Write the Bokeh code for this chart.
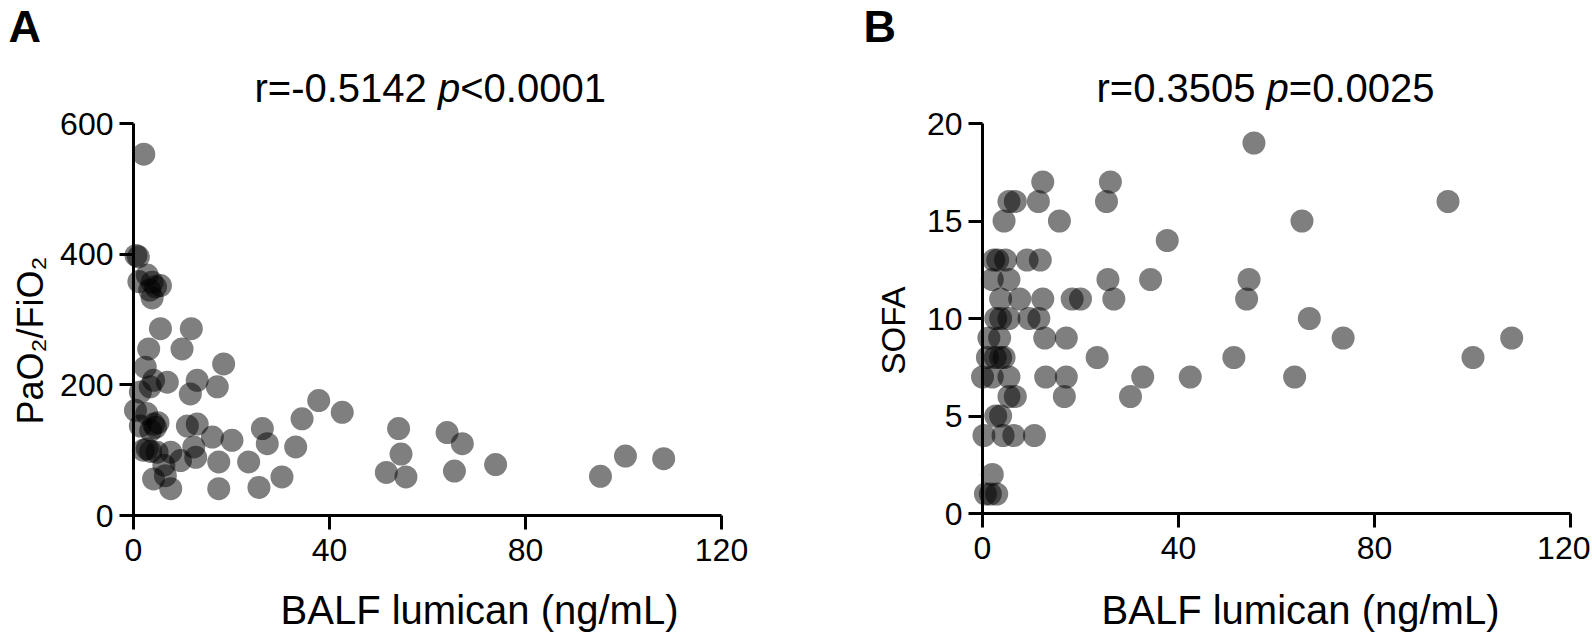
import math
from bokeh.plotting import figure
from bokeh.layouts import row
from bokeh.models import Label, FixedTicker
from bokeh.embed import file_html
from bokeh.resources import INLINE

# ---------------- data ----------------
lumican_a = [2.1, 0.5, 1.0, 2.8, 1.1, 3.8, 4.5, 5.5, 3.8, 3.3, 5.5, 11.8, 3.1, 9.9, 18.4,
             2.4, 13.0, 17.1, 11.6, 4.1, 6.9, 1.4, 3.4, 0.4, 2.7, 4.1, 4.5, 1.4, 5.0, 3.5,
             11.0, 13.0, 16.1, 20.1, 26.3, 27.3, 33.1, 34.4, 37.8, 42.6, 2.0, 2.8, 4.8, 3.5,
             7.6, 9.6, 12.3, 12.7, 6.2, 4.1, 6.5, 7.6, 17.4, 17.4, 23.5, 25.6, 30.3, 54.1,
             54.6, 51.6, 55.6, 64.0, 67.1, 65.5, 73.9, 95.3, 100.4, 108.2]
pf_ratio = [553, 398, 396, 368, 358, 357, 350, 352, 333, 345, 286, 286, 255, 255, 232,
            227, 207, 197, 186, 207, 204, 189, 197, 161, 156, 140, 135, 137, 142, 130,
            137, 140, 120, 115, 133, 110, 105, 148, 176, 158, 100, 102, 97, 98,
            97, 84, 105, 89, 77, 56, 61, 41, 82, 41, 82, 43, 59, 133,
            94, 66, 59, 127, 110, 68, 78, 60, 91, 87]

lumican_b = [55.4,
             12.3, 26.1,
             5.4, 6.7, 11.4, 25.3, 95.0,
             4.4, 15.7, 65.2,
             37.7,
             2.3, 3.1, 4.7, 9.1, 11.8,
             2.0, 5.4, 25.6, 34.3, 54.4,
             3.7, 7.6, 12.3, 18.3, 20.0, 26.8, 53.9,
             2.7, 3.7, 5.4, 9.5, 11.5, 66.7,
             1.3, 3.5, 12.7, 17.1, 73.6, 108.0,
             1.0, 2.6, 3.7, 4.4, 23.4, 51.3, 100.1,
             0.0, 2.0, 5.4, 12.9, 17.1, 32.7, 42.4, 63.7,
             5.4, 6.7, 16.7, 30.2,
             2.7, 3.7,
             0.3, 4.2, 6.4, 10.6,
             2.0,
             0.6, 1.6, 2.9]
sofa = [19,
        17, 17,
        16, 16, 16, 16, 16,
        15, 15, 15,
        14,
        13, 13, 13, 13, 13,
        12, 12, 12, 12, 12,
        11, 11, 11, 11, 11, 11, 11,
        10, 10, 10, 10, 10, 10,
        9, 9, 9, 9, 9, 9,
        8, 8, 8, 8, 8, 8, 8,
        7, 7, 7, 7, 7, 7, 7, 7,
        6, 6, 6, 6,
        5, 5,
        4, 4, 4, 4,
        2,
        1, 1, 1]

x_ticks = [0, 40, 80, 120]
pf_ticks = [0, 200, 400, 600]
sofa_ticks = [0, 5, 10, 15, 20]

title_a = ["r=-0.5142 ", "p", "<0.0001"]
title_b = ["r=0.3505 ", "p", "=0.0025"]
x_label = "BALF lumican (ng/mL)"
y_label_a = "PaO\u2082/FiO\u2082"
y_label_b = "SOFA"

# ---------------- style ----------------
FONT = "Liberation Sans"
TICK_FONT = "'Liberation Sans Narrow', 'Liberation Sans', sans-serif"
TICK_FS = 32
TITLE_FS = 40
XLABEL_FS = 40
LETTER_FS = 45
BASE_K = 0.37   # label anchor sits this many em above the drawn baseline

ADV = {"r": 333, "=": 584, "-": 333, ".": 278, " ": 278, "p": 556, "<": 584}
def text_w(s, fs):
    return sum(ADV.get(c, 556) for c in s) / 1000.0 * fs

H = 636


class Panel:
    """Maps page pixels to data for a figure whose frame fills its canvas."""
    def __init__(self, left_px, right_px, ox, oy, sx, sy):
        self.left_px, self.right_px = left_px, right_px
        self.ox, self.oy, self.sx, self.sy = ox, oy, sx, sy

    def d(self, ix, iy):
        return (ix - self.ox) / self.sx, (self.oy - iy) / self.sy


def make_panel(pan, xs, ys, x_end, y_end, yticks):
    x0, y1 = pan.d(pan.left_px, 0)
    x1, y0 = pan.d(pan.right_px, H)
    p = figure(width=pan.right_px - pan.left_px, height=H, x_range=(x0, x1), y_range=(y0, y1),
               output_backend="svg", toolbar_location=None, title=None,
               min_border=0, min_border_left=0, min_border_right=0,
               min_border_top=0, min_border_bottom=0)
    p.outline_line_color = None
    p.xgrid.visible = False
    p.ygrid.visible = False
    p.background_fill_color = "white"
    p.border_fill_color = "white"
    p.scatter(xs, ys, marker="circle", size=23, fill_color="black", fill_alpha=0.5,
              line_color=None)
    for ax, ticks, bnds in ((p.xaxis[0], x_ticks, (0, x_end)), (p.yaxis[0], yticks, (0, y_end))):
        ax.fixed_location = 0
        ax.ticker = FixedTicker(ticks=ticks)
        ax.bounds = bnds
        ax.axis_line_width = 3
        ax.axis_line_color = "black"
        ax.major_tick_line_width = 3
        ax.major_tick_line_color = "black"
        ax.major_tick_out = 14
        ax.major_tick_in = 0
        ax.minor_tick_line_color = None
        ax.major_label_text_font = TICK_FONT
        ax.major_label_text_font_size = f"{TICK_FS}px"
        ax.major_label_text_color = "black"
        ax.major_label_standoff = 6
    p.xaxis[0].major_label_standoff = 9
    return p


pan_a = Panel(0, 840, 133, 515, 588 / 120.0, 392 / 600.0)
pan_b = Panel(840, 1590, 982, 513, 588 / 120.0, 390 / 20.0)
pa = make_panel(pan_a, lumican_a, pf_ratio, 120, 600, pf_ticks)
pb = make_panel(pan_b, lumican_b, sofa, 120, 20, sofa_ticks)


def lab(p, pan, ix, iy, text, fs, rotated=False, **kw):
    # (ix, iy): where the text baseline should fall on the page
    if rotated:
        ix = ix - BASE_K * fs
    else:
        iy = iy - BASE_K * fs
    x, y = pan.d(ix, iy)
    opts = dict(text_font=FONT, text_font_size=f"{fs}px", text_color="black",
                text_align="left", text_baseline="alphabetic")
    if rotated:
        opts["angle"] = math.pi / 2
    opts.update(kw)
    p.add_layout(Label(x=x, y=y, text=text, **opts))


for p, pan, parts, tix, letter, lix, xlc, ylab, ylfs, ylx, yly in (
        (pa, pan_a, title_a, 254, "A", 8, 479, y_label_a, 36, 43, 340),
        (pb, pan_b, title_b, 1096, "B", 863, 1300, y_label_b, 33, 905, 330)):
    x = tix
    for part in parts:
        lab(p, pan, x, 102, part, TITLE_FS,
            text_font_style="italic" if part == "p" else "normal")
        x += text_w(part, TITLE_FS)
    lab(p, pan, lix, 43, letter, LETTER_FS, text_font_style="bold")
    lab(p, pan, xlc, 624, x_label, XLABEL_FS, text_align="center")
    lab(p, pan, ylx, yly, ylab, ylfs, rotated=True, text_align="center")

layout = row(pa, pb)
open("out.html", "w").write(file_html(layout, INLINE))
